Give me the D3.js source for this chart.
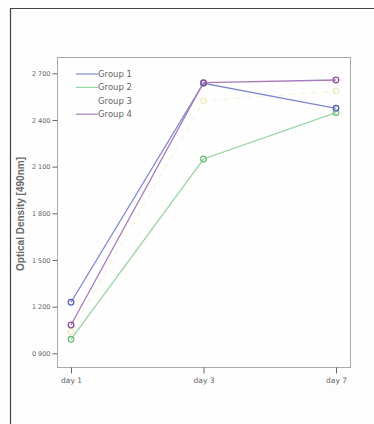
<!DOCTYPE html>
<html>
<head>
<meta charset="utf-8">
<script src="https://cdn.jsdelivr.net/npm/d3@7"></script>
<style>
  body { margin: 0; background: #fdfdfd; }
  svg { display: block; }
</style>
</head>
<body>
<div id="chart"></div>
<script>
const days = ["day 1", "day 3", "day 7"];
const groups = ["Group 1", "Group 2", "Group 3", "Group 4"];
const group1 = [1.228, 2.636, 2.475];
const group2 = [0.990, 2.149, 2.447];
const group3 = [1.040, 2.522, 2.586];
const group4 = [1.082, 2.640, 2.657];
const yTicks = [0.9, 1.2, 1.5, 1.8, 2.1, 2.4, 2.7];
const yTickLabels = ["0 900", "1 200", "1 500", "1 800", "2 100", "2 400", "2 700"];
const colors = ["#8088cc", "#98d6a4", "#f8f5dc", "#a77cb8"];
const markerColors = ["#5b64b8", "#6cc07e", "#f1ecbf", "#8c4f9e"];

const width = 374, height = 424;
const box = {left: 57, right: 350, top: 57, bottom: 367};

const svg = d3.select("#chart").append("svg")
  .attr("width", width)
  .attr("height", height);

// outer frame
svg.append("path")
  .attr("d", `M10.5,${height} V8.5 H${width}`)
  .attr("fill", "none")
  .attr("stroke", "#444")
  .attr("stroke-width", 1.2);

const x = d3.scalePoint(days, [71, 336]);
const y = d3.scaleLinear([0.9, 2.7], [353.3, 73.3]);

// plot box
svg.append("rect")
  .attr("x", box.left + 0.5).attr("y", box.top + 0.5)
  .attr("width", box.right - box.left).attr("height", box.bottom - box.top)
  .attr("fill", "#fefefe")
  .attr("stroke", "#a8a8a8");

const yAxis = d3.axisLeft(y).tickValues(yTicks)
  .tickFormat((d, i) => yTickLabels[i]).tickSize(5).tickPadding(2);
svg.append("g")
  .attr("transform", `translate(${box.left + 0.5},0)`)
  .call(yAxis)
  .call(g => g.select(".domain").remove())
  .call(g => g.selectAll(".tick line").attr("stroke", "#666"))
  .call(g => g.selectAll("text").attr("fill", "#666")
    .attr("font-family", "DejaVu Sans, sans-serif").attr("font-size", 6.5));

const xAxis = d3.axisBottom(x).tickSize(6).tickPadding(4);
svg.append("g")
  .attr("transform", `translate(0,${box.bottom + 0.5})`)
  .call(xAxis)
  .call(g => g.select(".domain").remove())
  .call(g => g.selectAll(".tick line").attr("stroke", "#666"))
  .call(g => g.selectAll("text").attr("fill", "#666")
    .attr("font-family", "DejaVu Sans, sans-serif").attr("font-size", 7.5));

svg.append("text")
  .attr("transform", `translate(24,${(box.top + box.bottom) / 2 + 2}) rotate(-90)`)
  .attr("text-anchor", "middle")
  .attr("fill", "#6a6a6a")
  .attr("font-family", "Liberation Sans, Arial, sans-serif")
  .attr("font-weight", "bold")
  .attr("font-size", 10)
  .text("Optical Density [490nm]");

const series = [group1, group2, group3, group4];
const line = d3.line().x((d, i) => x(days[i])).y(d => y(d));

// group 3 is very faint, drawn first
const order = [2, 1, 0, 3];
order.forEach(k => {
  const g = svg.append("g");
  g.append("path")
    .datum(series[k])
    .attr("d", line)
    .attr("fill", "none")
    .attr("stroke", colors[k])
    .attr("stroke-width", 1.3)
    .attr("stroke-dasharray", k === 2 ? "6,5" : null);
  g.selectAll("circle")
    .data(series[k])
    .join("circle")
    .attr("cx", (d, i) => x(days[i]))
    .attr("cy", d => y(d))
    .attr("r", 2.8)
    .attr("fill", "none")
    .attr("stroke", markerColors[k])
    .attr("stroke-width", 1.3);
});

// legend
const legend = svg.append("g")
  .selectAll("g")
  .data(groups)
  .join("g")
  .attr("transform", (d, i) => `translate(76,${74 + i * 13.4})`);
legend.append("line")
  .attr("x2", 22)
  .attr("stroke", (d, i) => i === 2 ? "none" : colors[i])
  .attr("stroke-width", 1.2);
legend.append("text")
  .attr("x", 22)
  .attr("dy", "0.35em")
  .attr("fill", "#666")
  .attr("font-family", "DejaVu Sans, sans-serif")
  .attr("font-size", 8.5)
  .text(d => d);
</script>
</body>
</html>
